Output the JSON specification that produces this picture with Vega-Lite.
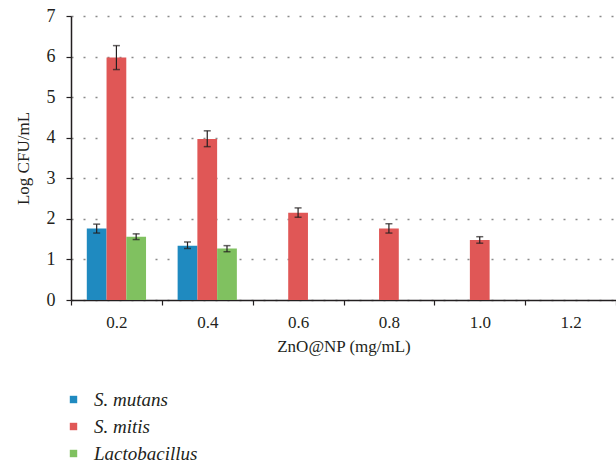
{
  "$schema": "https://vega.github.io/schema/vega-lite/v6.json",
  "autosize": {"type": "none"},
  "width": 545,
  "height": 284,
  "padding": {"left": 71, "top": 16, "right": 0, "bottom": 164},
  "background": "white",
  "config": {
    "font": "Liberation Serif",
    "view": {"stroke": null},
    "axis": {"labelColor": "#231f20", "titleColor": "#231f20", "titleFontWeight": "normal", "domainColor": "#231f20", "tickColor": "#231f20", "domainWidth": 1.5, "tickWidth": 1.2, "tickSize": 5}
  },
  "data": {
    "values": [
      {"conc": "0.2", "species": "S. mutans", "value": 1.76, "lo": 1.65, "hi": 1.87},
      {"conc": "0.2", "species": "S. mitis", "value": 5.98, "lo": 5.68, "hi": 6.27},
      {"conc": "0.2", "species": "Lactobacillus", "value": 1.56, "lo": 1.49, "hi": 1.63},
      {"conc": "0.4", "species": "S. mutans", "value": 1.34, "lo": 1.27, "hi": 1.43},
      {"conc": "0.4", "species": "S. mitis", "value": 3.97, "lo": 3.78, "hi": 4.17},
      {"conc": "0.4", "species": "Lactobacillus", "value": 1.27, "lo": 1.19, "hi": 1.34},
      {"conc": "0.6", "species": "S. mitis", "value": 2.15, "lo": 2.04, "hi": 2.27},
      {"conc": "0.8", "species": "S. mitis", "value": 1.76, "lo": 1.65, "hi": 1.88},
      {"conc": "1.0", "species": "S. mitis", "value": 1.48, "lo": 1.4, "hi": 1.56}
    ]
  },
  "encoding": {
    "x": {
      "field": "conc", "type": "nominal",
      "scale": {"domain": ["0.2", "0.4", "0.6", "0.8", "1.0", "1.2"], "paddingInner": 0, "paddingOuter": 0},
      "axis": {"title": "ZnO@NP (mg/mL)", "labelFont": "Liberation Serif", "titleFont": "Liberation Serif", "labelFontSize": 17, "titleFontSize": 17, "labelAngle": 0, "tickBand": "extent", "labelPadding": 9, "titlePadding": 8, "grid": false}
    },
    "xOffset": {
      "field": "species", "type": "nominal",
      "scale": {"domain": ["S. mutans", "S. mitis", "Lactobacillus"], "paddingOuter": 0.8, "paddingInner": 0}
    }
  },
  "layer": [
    {
      "mark": {"type": "bar"},
      "encoding": {
        "y": {
          "field": "value", "type": "quantitative",
          "scale": {"domain": [0, 7], "nice": false},
          "axis": {"title": "Log CFU/mL", "labelFont": "Liberation Serif", "titleFont": "Liberation Serif", "labelFontSize": 18, "titleFontSize": 17, "values": [0, 1, 2, 3, 4, 5, 6, 7], "labelPadding": 11, "titlePadding": 14, "grid": true, "gridDash": [2, 10], "gridColor": "#8a8a8a", "gridWidth": 1.5}
        },
        "color": {
          "field": "species", "type": "nominal",
          "scale": {"domain": ["S. mutans", "S. mitis", "Lactobacillus"], "range": ["#1f8ac0", "#e05756", "#80c160"]},
          "legend": {"title": null, "orient": "none", "legendX": -7, "legendY": 374, "direction": "vertical", "symbolType": "square", "symbolSize": 55, "labelFont": "Liberation Serif", "labelFontSize": 19, "labelFontStyle": "italic", "labelColor": "#231f20", "labelOffset": 11, "rowPadding": 7}
        }
      }
    },
    {
      "mark": {"type": "rule", "color": "#231f20", "strokeWidth": 1.2},
      "encoding": {
        "y": {"field": "lo", "type": "quantitative"},
        "y2": {"field": "hi"}
      }
    },
    {
      "mark": {"type": "tick", "color": "#231f20", "size": 7, "thickness": 1.5, "orient": "horizontal"},
      "encoding": {"y": {"field": "lo", "type": "quantitative"}}
    },
    {
      "mark": {"type": "tick", "color": "#231f20", "size": 7, "thickness": 1.5, "orient": "horizontal"},
      "encoding": {"y": {"field": "hi", "type": "quantitative"}}
    }
  ]
}
